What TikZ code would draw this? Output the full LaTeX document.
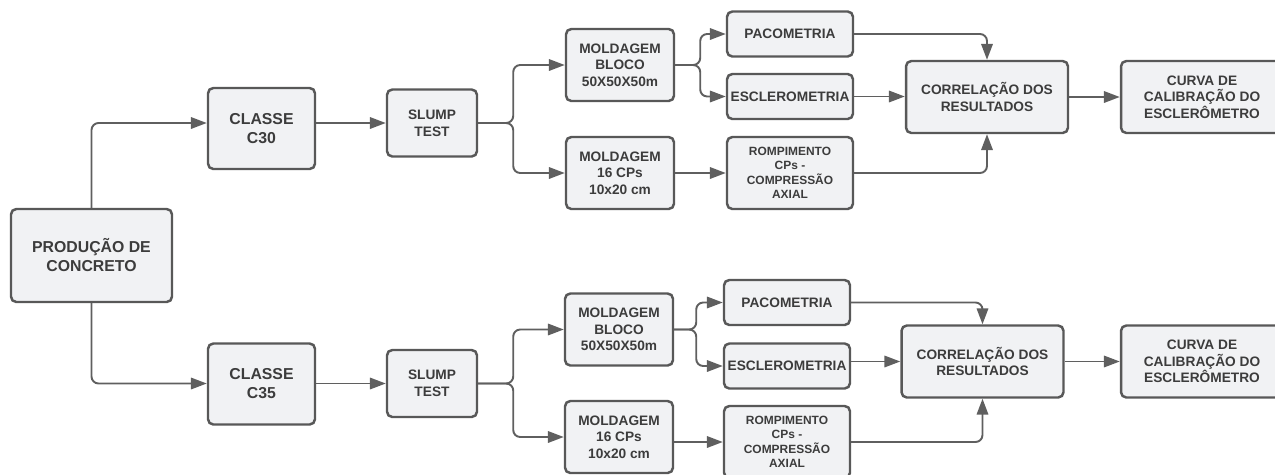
\documentclass[tikz,border=0pt]{standalone}
\usepackage{fontspec}
\setmainfont{Liberation Sans}
\usetikzlibrary{arrows.meta, positioning, calc}

\definecolor{boxfill}{RGB}{241,242,244}
\definecolor{boxline}{RGB}{88,88,88}
\definecolor{linkline}{RGB}{95,95,95}
\definecolor{boxtext}{RGB}{60,60,60}

\tikzset{
  box/.style={draw=boxline, fill=boxfill, line width=1.4pt, rounded corners=3pt, align=center, text=boxtext, inner sep=1pt, font=\bfseries\fontsize{7.8}{9.5}\selectfont},
  bigbox/.style={box, font=\bfseries\fontsize{9}{10.8}\selectfont},
  classbox/.style={bigbox, minimum width=2.14cm, minimum height=1.62cm},
  slumpbox/.style={box, minimum width=1.8cm, minimum height=1.34cm},
  moldbox/.style={box, minimum width=2.16cm, minimum height=1.44cm},
  testbox/.style={box, minimum width=2.52cm, minimum height=0.9cm},
  rompbox/.style={box, font=\bfseries\fontsize{6.8}{8.2}\selectfont, minimum width=2.52cm, minimum height=1.44cm},
  resultbox/.style={box, minimum width=3.24cm, minimum height=1.44cm},
  link/.style={draw=linkline, line width=1.1pt, rounded corners=4pt, -{Triangle[length=9pt, width=6.5pt]}},
}

\begin{document}
\begin{tikzpicture}[x=0.02cm, y=-0.02cm]
    \useasboundingbox (0,0) rectangle (1275,474);

    % Start
    \node[bigbox, minimum width=3.22cm, minimum height=1.86cm] (prod) at (91.5,255.5) {PRODUÇÃO DE\\CONCRETO};

    % Upper branch (C30)
    \node[classbox] (c30) at (261.5,128.5) {CLASSE\\C30};
    \node[slumpbox] (slumpA) at (432,123) {SLUMP\\TEST};
    \node[moldbox] (blocoA) at (620,65) {MOLDAGEM\\BLOCO\\50X50X50m};
    \node[moldbox] (cpsA) at (620,173) {MOLDAGEM\\16 CPs\\10x20 cm};
    \node[testbox] (pacoA) at (790,34) {PACOMETRIA};
    \node[testbox] (esclA) at (790,96.5) {ESCLEROMETRIA};
    \node[rompbox] (rompA) at (790,173) {ROMPIMENTO\\CPs -\\COMPRESSÃO\\AXIAL};
    \node[resultbox] (corrA) at (987,97) {CORRELAÇÃO DOS\\RESULTADOS};
    \node[resultbox] (curvaA) at (1202,97) {CURVA DE\\CALIBRAÇÃO DO\\ESCLERÔMETRO};

    \draw[link] (prod.north) |- (c30.west |- slumpA.west);
    \draw[link] (c30.east |- slumpA.west) -- (slumpA.west);
    \draw[link] (slumpA.east) -- ++(35,0) |- (blocoA.west);
    \draw[link] (slumpA.east) -- ++(35,0) |- (cpsA.west);
    \draw[link] (blocoA.east) -- ++(25,0) |- (pacoA.west);
    \draw[link] (blocoA.east) -- ++(25,0) |- (esclA.west);
    \draw[link] (cpsA.east) -- (rompA.west);
    \draw[link] (pacoA.east) -| (corrA.north);
    \draw[link] (esclA.east) -- (esclA.east -| corrA.west);
    \draw[link] (rompA.east) -| (corrA.south);
    \draw[link] (corrA.east) -- (curvaA.west);

    % Lower branch (C35)
    \node[classbox] (c35) at (261.5,384) {CLASSE\\C35};
    \node[slumpbox] (slumpB) at (432,383.5) {SLUMP\\TEST};
    \node[moldbox] (blocoB) at (619,329.5) {MOLDAGEM\\BLOCO\\50X50X50m};
    \node[moldbox] (cpsB) at (619,437) {MOLDAGEM\\16 CPs\\10x20 cm};
    \node[testbox] (pacoB) at (787,302.5) {PACOMETRIA};
    \node[testbox] (esclB) at (787,366) {ESCLEROMETRIA};
    \node[rompbox] (rompB) at (787,442) {ROMPIMENTO\\CPs -\\COMPRESSÃO\\AXIAL};
    \node[resultbox] (corrB) at (982.5,361.5) {CORRELAÇÃO DOS\\RESULTADOS};
    \node[resultbox] (curvaB) at (1202,361.5) {CURVA DE\\CALIBRAÇÃO DO\\ESCLERÔMETRO};

    \draw[link] (prod.south) |- (c35.west |- slumpB.west);
    \draw[link] (c35.east |- slumpB.west) -- (slumpB.west);
    \draw[link] (slumpB.east) -- ++(35,0) |- (blocoB.west);
    \draw[link] (slumpB.east) -- ++(35,0) |- (cpsB.west);
    \draw[link] (blocoB.east) -- ++(22,0) |- (pacoB.west);
    \draw[link] (blocoB.east) -- ++(22,0) |- (esclB.west);
    \draw[link] (cpsB.east |- rompB.west) -- (rompB.west);
    \draw[link] (pacoB.east) -| (corrB.north);
    \draw[link] (esclB.east |- corrB.west) -- (corrB.west);
    \draw[link] (rompB.east) -| (corrB.south);
    \draw[link] (corrB.east) -- (curvaB.west);
\end{tikzpicture}
\end{document}
